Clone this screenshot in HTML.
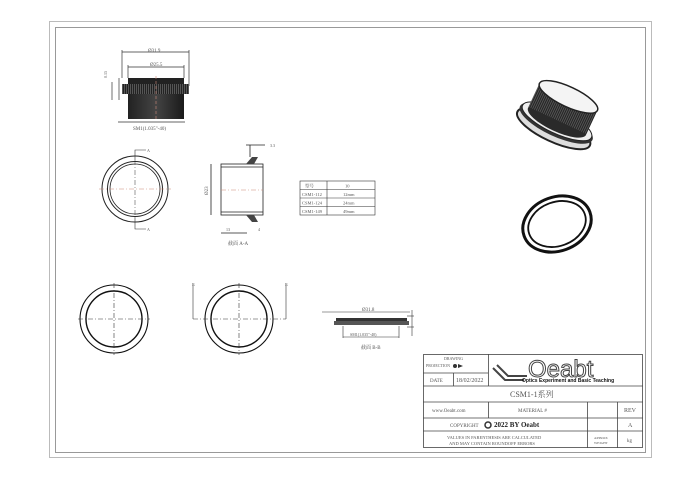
<!DOCTYPE html>
<html><head><meta charset="utf-8"><style>
html,body{margin:0;padding:0;background:#fff;}
svg{display:block;}
text{font-family:"Liberation Serif","Noto Serif CJK SC",serif;fill:#555;}
</style></head><body>
<svg width="700" height="478" viewBox="0 0 700 478" xmlns="http://www.w3.org/2000/svg">
<defs>
<pattern id="kn" width="2" height="4" patternUnits="userSpaceOnUse"><rect width="2" height="4" fill="#222"/><rect width="1" height="4" fill="#555"/></pattern>
<linearGradient id="body" x1="0" x2="1"><stop offset="0" stop-color="#222"/><stop offset="0.5" stop-color="#444"/><stop offset="1" stop-color="#1a1a1a"/></linearGradient>
</defs>
<rect x="49.5" y="21.5" width="602" height="436" fill="none" stroke="#bbb" stroke-width="1"/>
<rect x="55.5" y="27.5" width="590" height="425" fill="none" stroke="#999" stroke-width="1"/>

<!-- top-left part -->
<g stroke="#333" stroke-width="0.7" fill="none">
<line x1="122" y1="52" x2="189" y2="52"/><line x1="122" y1="50" x2="122" y2="78"/><line x1="189" y1="50" x2="189" y2="86"/>
<line x1="128" y1="67" x2="184" y2="67"/><line x1="128" y1="65" x2="128" y2="78"/><line x1="184" y1="65" x2="184" y2="78"/>
<line x1="118" y1="122" x2="185" y2="122"/>
<line x1="119" y1="78" x2="119" y2="100"/><line x1="112" y1="82" x2="112" y2="100"/>
</g>
<rect x="128" y="78" width="56" height="10" fill="#222"/>
<rect x="122" y="84" width="67" height="10" fill="url(#kn)"/>
<rect x="128" y="94" width="56" height="25" fill="url(#body)"/>
<line x1="156" y1="76" x2="156" y2="120" stroke="#c87" stroke-width="0.6" stroke-dasharray="3,2"/>
<text x="148" y="52" font-size="5">Ø31.9</text>
<text x="150" y="66" font-size="5">Ø25.5</text>
<text x="133" y="130" font-size="5">SM1(1.035"-40)</text>
<text x="107" y="78" font-size="4" transform="rotate(-90 107 78)">0.15</text>

<!-- ring 1 -->
<g fill="none" stroke="#222">
<circle cx="135" cy="189" r="33" stroke-width="1"/>
<circle cx="135" cy="189" r="27.5" stroke-width="1"/>
<circle cx="135" cy="189" r="25" stroke-width="0.8"/>
</g>
<g stroke="#c87" stroke-width="0.6" stroke-dasharray="5,2,1,2">
<line x1="99" y1="189" x2="171" y2="189"/>
</g>
<line x1="135" y1="160" x2="135" y2="218" stroke="#333" stroke-width="0.5" stroke-dasharray="5,2,1,2"/>
<g stroke="#333" stroke-width="0.6" fill="none">
<polyline points="135,160 135,150 146,150"/><polyline points="135,218 135,229 146,229"/>
</g>
<text x="147" y="152" font-size="4">A</text><text x="147" y="231" font-size="4">A</text>

<!-- section A-A -->
<g stroke="#222" stroke-width="0.8" fill="none">
<rect x="221" y="164" width="42" height="51"/>
<line x1="221" y1="167" x2="263" y2="167"/><line x1="221" y1="212" x2="263" y2="212"/>
<line x1="211" y1="164" x2="211" y2="215"/>
<line x1="221" y1="233" x2="247" y2="233"/>
<line x1="246" y1="145" x2="265" y2="145"/><line x1="250" y1="145" x2="250" y2="157"/>
</g>
<polygon points="246,164 252,157 258,157 254,164" fill="#444"/>
<polygon points="246,215 252,222 258,222 254,215" fill="#444"/>
<line x1="221" y1="190" x2="263" y2="190" stroke="#c87" stroke-width="0.6" stroke-dasharray="5,2,1,2"/>
<text x="270" y="147" font-size="4">3.3</text>
<text x="208" y="195" font-size="5" transform="rotate(-90 208 195)">Ø23</text>
<text x="226" y="231" font-size="4">13</text>
<text x="258" y="231" font-size="4">4</text>
<text x="228" y="245" font-size="5">截面 A-A</text>

<!-- table -->
<g stroke="#333" stroke-width="0.6" fill="none">
<rect x="300" y="181" width="75" height="34"/>
<line x1="327" y1="181" x2="327" y2="215"/>
<line x1="300" y1="189.5" x2="375" y2="189.5"/><line x1="300" y1="198" x2="375" y2="198"/><line x1="300" y1="206.5" x2="375" y2="206.5"/>
</g>
<g font-size="4.5"><text x="305" y="187.5">型号</text><text x="345" y="187.5">10</text>
<text x="302" y="196">CSM1-112</text><text x="343" y="196">12mm</text>
<text x="302" y="204.5">CSM1-124</text><text x="343" y="204.5">24mm</text>
<text x="302" y="213">CSM1-149</text><text x="343" y="213">49mm</text></g>

<!-- row 2 rings -->
<g fill="none" stroke="#111">
<circle cx="114" cy="319" r="34" stroke-width="1.1"/><circle cx="114" cy="319" r="28" stroke-width="1.4"/>
<circle cx="239" cy="319" r="34" stroke-width="1.1"/><circle cx="239" cy="319" r="28" stroke-width="1.4"/>
</g>
<g stroke="#333" stroke-width="0.6" stroke-dasharray="5,2,1,2">
<line x1="78" y1="319" x2="150" y2="319"/><line x1="114" y1="283" x2="114" y2="355"/>
<line x1="193" y1="319" x2="286" y2="319"/><line x1="239" y1="283" x2="239" y2="355"/>
</g>
<g stroke="#333" stroke-width="0.6" fill="none"><line x1="193" y1="285" x2="193" y2="319"/><line x1="286" y1="285" x2="286" y2="319"/></g>
<text x="192" y="286" font-size="4">B</text><text x="285" y="286" font-size="4">B</text>

<!-- section B-B -->
<g stroke="#333" stroke-width="0.6" fill="none">
<line x1="322" y1="312" x2="410" y2="312"/><line x1="343" y1="337" x2="399" y2="337"/>
<line x1="343" y1="326" x2="343" y2="338"/><line x1="399" y1="326" x2="399" y2="338"/>
<line x1="407" y1="316" x2="414" y2="316"/><line x1="407" y1="327" x2="414" y2="327"/><line x1="412" y1="310" x2="412" y2="336"/>
</g>
<rect x="336" y="318" width="71" height="5" fill="#333"/>
<rect x="334" y="321" width="75" height="4" fill="#555"/>
<text x="362" y="311" font-size="5">Ø31.8</text>
<text x="350" y="336" font-size="4">SM1(1.035"-40)</text>
<text x="361" y="349" font-size="5">截面 B-B</text>

<!-- 3D cap -->
<g transform="rotate(25 560 115)">
<ellipse cx="560" cy="130" rx="40" ry="13" fill="#ddd" stroke="#222" stroke-width="2"/>
<ellipse cx="560" cy="124" rx="40" ry="13" fill="#333"/>
<ellipse cx="560" cy="122" rx="38" ry="12" fill="#eee" stroke="#222"/>
<ellipse cx="560" cy="122" rx="32" ry="10" fill="#2a2a2a"/>
<rect x="528" y="95" width="64" height="26" fill="url(#kn)"/>
<ellipse cx="560" cy="95" rx="32" ry="10" fill="#f4f4f4" stroke="#222" stroke-width="1.5"/>
</g>
<!-- 3D ring -->
<g transform="rotate(-20 557 224)">
<ellipse cx="557" cy="224" rx="35" ry="27" fill="none" stroke="#111" stroke-width="3"/>
<ellipse cx="557" cy="224" rx="29.5" ry="22" fill="none" stroke="#111" stroke-width="1.8"/>
</g>

<!-- title block -->
<g stroke="#444" stroke-width="0.8" fill="none">
<rect x="423.5" y="354.5" width="219" height="93"/>
<line x1="423" y1="373" x2="488" y2="373"/>
<line x1="423" y1="386" x2="643" y2="386"/>
<line x1="423" y1="402" x2="643" y2="402"/>
<line x1="423" y1="418" x2="643" y2="418"/>
<line x1="423" y1="431" x2="643" y2="431"/>
<line x1="488.5" y1="354" x2="488.5" y2="386"/>
<line x1="453.5" y1="373" x2="453.5" y2="386"/>
<line x1="488.5" y1="402" x2="488.5" y2="418"/>
<line x1="587.5" y1="402" x2="587.5" y2="448"/>
<line x1="617.5" y1="402" x2="617.5" y2="448"/>
</g>
<g font-size="4"><text x="444" y="360">DRAWING</text><text x="426" y="367">PROJECTION</text></g>
<circle cx="455" cy="366" r="2" fill="#333"/><polygon points="458,364 463,366 458,368" fill="#333"/>
<text x="430" y="382" font-size="5">DATE</text>
<text x="456" y="382" font-size="6" fill="#222">18/02/2022</text>
<g stroke="#444" stroke-width="2" fill="none"><polyline points="497,365 508,376 527,376"/><polyline points="493,368 505,380 524,380"/></g>
<text x="528" y="377" font-size="24" fill="#444" style="font-family:'Liberation Sans',sans-serif;fill:none;stroke:#444;stroke-width:1">Oeabt</text>
<text x="522" y="382" font-size="5" font-weight="bold" style="font-family:'Liberation Sans',sans-serif;fill:#111">Optics Experiment and Basic Teaching</text>
<text x="510" y="397" font-size="8" fill="#333">CSM1-1系列</text>
<text x="432" y="412" font-size="5">www.Oeabt.com</text>
<text x="518" y="412" font-size="5">MATERIAL #</text>
<text x="624" y="412" font-size="6">REV</text>
<text x="450" y="427" font-size="5">COPYRIGHT</text>
<circle cx="488" cy="425" r="3" fill="none" stroke="#333" stroke-width="1.5"/>
<text x="494" y="427" font-size="7" font-weight="bold" style="fill:#222">2022 BY Oeabt</text>
<text x="628" y="427" font-size="6">A</text>
<text x="447" y="439" font-size="4.5">VALUES IN PARENTHESIS ARE CALCULATED</text>
<text x="449" y="445" font-size="4.5">AND MAY CONTAIN ROUNDOFF ERRORS</text>
<text x="594" y="439" font-size="3.5">APPROX</text><text x="594" y="444" font-size="3.5">WEIGHT</text>
<text x="627" y="442" font-size="5">kg</text>
</svg>
</body></html>
